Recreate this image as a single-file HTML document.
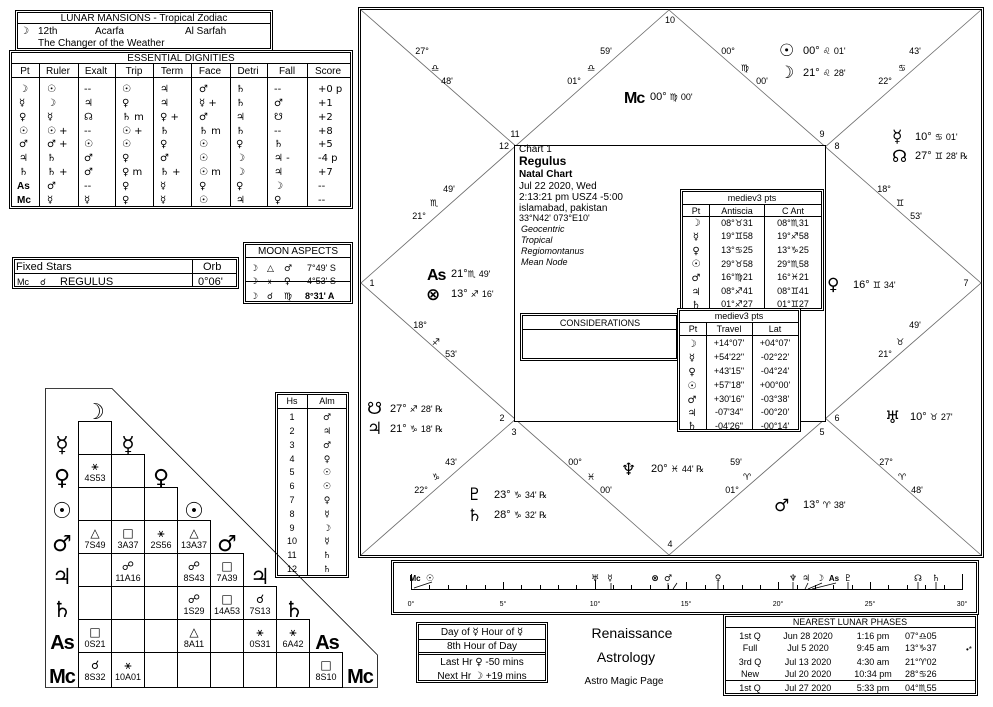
<!DOCTYPE html>
<html><head><meta charset="utf-8"><style>
body{margin:0;background:#fff}
svg{display:block;font-family:"Liberation Sans","DejaVu Sans",sans-serif}
.g{font-family:"DejaVu Sans",sans-serif}
</style></head><body>
<svg width="993" height="707" viewBox="0 0 993 707" xmlns="http://www.w3.org/2000/svg" font-size="10" fill="#000">
<g fill="none" stroke="#000" stroke-width="1">
<!-- lunar mansions -->
<rect x="15.5" y="10.5" width="257" height="40"/><rect x="17.5" y="12.5" width="253" height="36"/>
<line x1="17" y1="23.5" x2="271" y2="23.5"/>
<!-- essential dignities -->
<rect x="9.5" y="50.5" width="343" height="158"/><rect x="11.5" y="52.5" width="339" height="154"/>
<line x1="12" y1="63.5" x2="350" y2="63.5"/><line x1="12" y1="77.5" x2="350" y2="77.5"/>
<path d="M39.5 64V206M78.5 64V206M115.5 64V206M153.5 64V206M191.5 64V206M230.5 64V206M267.5 64V206M307.5 64V206"/>
<!-- fixed stars -->
<rect x="12.5" y="257.5" width="226" height="31"/><rect x="14.5" y="259.5" width="222" height="27"/>
<line x1="15" y1="273.5" x2="236" y2="273.5"/><line x1="192.5" y1="260" x2="192.5" y2="286"/>
<!-- moon aspects -->
<rect x="243.5" y="242.5" width="109" height="61"/><rect x="245.5" y="244.5" width="105" height="57"/>
<line x1="246" y1="257.5" x2="350" y2="257.5"/><line x1="246" y1="281.5" x2="350" y2="281.5"/>
<!-- Hs Alm -->
<rect x="275.5" y="392.5" width="73" height="185"/><rect x="277.5" y="394.5" width="69" height="181"/>
<line x1="278" y1="408.5" x2="346" y2="408.5"/><line x1="307.5" y1="395" x2="307.5" y2="575"/>
<!-- triangle -->
<polygon points="45.5,388.5 112,388.5 377.5,655 377.5,687.5 45.5,687.5" stroke-width="0.8"/>
<!-- main chart -->
<rect x="358.5" y="7.5" width="625" height="550"/><rect x="360.5" y="9.5" width="621" height="546"/>
<g stroke="#666" stroke-width="0.8">
<line x1="361" y1="10" x2="981" y2="555"/><line x1="981" y1="10" x2="361" y2="555"/>
<polygon points="669,10 361,283 669,555 981,283"/>
</g>
<rect x="514.5" y="145.5" width="311" height="276" fill="#fff"/>
<!-- medieval table 1 -->
<rect x="680.5" y="189.5" width="143" height="121" fill="#fff"/><rect x="682.5" y="191.5" width="139" height="117"/>
<line x1="683" y1="204.5" x2="821" y2="204.5"/><line x1="683" y1="216.5" x2="821" y2="216.5"/>
<line x1="709.5" y1="205" x2="709.5" y2="308"/><line x1="764.5" y1="205" x2="764.5" y2="308"/>
<!-- considerations -->
<rect x="520.5" y="313.5" width="158" height="47" fill="#fff"/><rect x="522.5" y="315.5" width="154" height="43"/>
<line x1="523" y1="329.5" x2="676" y2="329.5"/>
<!-- medieval table 2 -->
<rect x="677.5" y="308.5" width="123" height="123" fill="#fff"/><rect x="679.5" y="310.5" width="119" height="119"/>
<line x1="680" y1="322.5" x2="798" y2="322.5"/><line x1="680" y1="335.5" x2="798" y2="335.5"/>
<line x1="706.5" y1="323" x2="706.5" y2="429"/><line x1="752.5" y1="323" x2="752.5" y2="429"/>
<!-- timeline -->
<rect x="391.5" y="560.5" width="587" height="54"/><rect x="393.5" y="562.5" width="583" height="50"/>
<line x1="411" y1="589.5" x2="962" y2="589.5"/>
<!-- day box -->
<rect x="416.5" y="622.5" width="131" height="60"/><rect x="418.5" y="624.5" width="127" height="56"/>
<line x1="419" y1="639.5" x2="545" y2="639.5"/><line x1="419" y1="652.5" x2="545" y2="652.5"/><line x1="419" y1="654.5" x2="545" y2="654.5"/>
<!-- lunar phases -->
<rect x="723.5" y="614.5" width="254" height="81"/><rect x="725.5" y="616.5" width="250" height="77"/>
<line x1="726" y1="627.5" x2="975" y2="627.5"/><line x1="726" y1="680.5" x2="975" y2="680.5"/>
</g>
<!-- triangle cells -->
<g fill="none" stroke="#000" stroke-width="1" id="cells">
<rect x="78.5" y="421.5" width="33" height="33"/>
<rect x="78.5" y="454.5" width="33" height="33"/><rect x="111.5" y="454.5" width="33" height="33"/>
<rect x="78.5" y="487.5" width="33" height="33"/><rect x="111.5" y="487.5" width="33" height="33"/><rect x="144.5" y="487.5" width="33" height="33"/>
<rect x="78.5" y="520.5" width="33" height="33"/><rect x="111.5" y="520.5" width="33" height="33"/><rect x="144.5" y="520.5" width="33" height="33"/><rect x="177.5" y="520.5" width="33" height="33"/>
<rect x="78.5" y="553.5" width="33" height="33"/><rect x="111.5" y="553.5" width="33" height="33"/><rect x="144.5" y="553.5" width="33" height="33"/><rect x="177.5" y="553.5" width="33" height="33"/><rect x="210.5" y="553.5" width="33" height="33"/>
<rect x="78.5" y="586.5" width="33" height="33"/><rect x="111.5" y="586.5" width="33" height="33"/><rect x="144.5" y="586.5" width="33" height="33"/><rect x="177.5" y="586.5" width="33" height="33"/><rect x="210.5" y="586.5" width="33" height="33"/><rect x="243.5" y="586.5" width="33" height="33"/>
<rect x="78.5" y="619.5" width="33" height="33"/><rect x="111.5" y="619.5" width="33" height="33"/><rect x="144.5" y="619.5" width="33" height="33"/><rect x="177.5" y="619.5" width="33" height="33"/><rect x="210.5" y="619.5" width="33" height="33"/><rect x="243.5" y="619.5" width="33" height="33"/><rect x="276.5" y="619.5" width="33" height="33"/>
<rect x="78.5" y="652.5" width="33" height="35"/><rect x="111.5" y="652.5" width="33" height="35"/><rect x="144.5" y="652.5" width="33" height="35"/><rect x="177.5" y="652.5" width="33" height="35"/><rect x="210.5" y="652.5" width="33" height="35"/><rect x="243.5" y="652.5" width="33" height="35"/><rect x="276.5" y="652.5" width="33" height="35"/><rect x="309.5" y="652.5" width="33" height="35"/>
</g>

<!-- lunar mansions text -->
<text x="144" y="21" text-anchor="middle">LUNAR MANSIONS - Tropical Zodiac</text>
<text x="20" y="34" class="g" font-weight="bold">☽</text><text x="38" y="34">12th</text><text x="95" y="34">Acarfa</text><text x="185" y="34">Al Sarfah</text>
<text x="38" y="46">The Changer of the Weather</text>

<!-- ED text -->
<text x="181" y="61" text-anchor="middle">ESSENTIAL DIGNITIES</text>
<g text-anchor="middle"><text x="25" y="74">Pt</text><text x="58" y="74">Ruler</text><text x="96" y="74">Exalt</text><text x="134" y="74">Trip</text><text x="172" y="74">Term</text><text x="210" y="74">Face</text><text x="248" y="74">Detri</text><text x="287" y="74">Fall</text><text x="328" y="74">Score</text></g>
<g class="g" font-size="10">
<text x="19" y="92" font-weight="bold">☽</text><text x="47" y="92">☉</text><text x="84" y="92">--</text><text x="122" y="92">☉</text><text x="160" y="92">♃</text><text x="199" y="92">♂</text><text x="236" y="92">♄</text><text x="274" y="92">--</text><text x="318" y="92">+0  p</text>
<text x="19" y="106" font-weight="bold">☿</text><text x="47" y="106">☽</text><text x="84" y="106">♃</text><text x="122" y="106">♀</text><text x="160" y="106">♃</text><text x="199" y="106">☿  +</text><text x="236" y="106">♄</text><text x="274" y="106">♂</text><text x="318" y="106">+1</text>
<text x="19" y="120" font-weight="bold">♀</text><text x="47" y="120">☿</text><text x="84" y="120">☊</text><text x="122" y="120">♄  m</text><text x="160" y="120">♀  +</text><text x="199" y="120">♂</text><text x="236" y="120">♃</text><text x="274" y="120">☋</text><text x="318" y="120">+2</text>
<text x="19" y="134" font-weight="bold">☉</text><text x="47" y="134">☉  +</text><text x="84" y="134">--</text><text x="122" y="134">☉  +</text><text x="160" y="134">♄</text><text x="199" y="134">♄  m</text><text x="236" y="134">♄</text><text x="274" y="134">--</text><text x="318" y="134">+8</text>
<text x="19" y="147" font-weight="bold">♂</text><text x="47" y="147">♂  +</text><text x="84" y="147">☉</text><text x="122" y="147">☉</text><text x="160" y="147">♀</text><text x="199" y="147">☉</text><text x="236" y="147">♀</text><text x="274" y="147">♄</text><text x="318" y="147">+5</text>
<text x="19" y="161" font-weight="bold">♃</text><text x="47" y="161">♄</text><text x="84" y="161">♂</text><text x="122" y="161">♀</text><text x="160" y="161">♂</text><text x="199" y="161">☉</text><text x="236" y="161">☽</text><text x="274" y="161">♃   -</text><text x="318" y="161">-4  p</text>
<text x="19" y="175" font-weight="bold">♄</text><text x="47" y="175">♄  +</text><text x="84" y="175">♂</text><text x="122" y="175">♀  m</text><text x="160" y="175">♄  +</text><text x="199" y="175">☉  m</text><text x="236" y="175">☽</text><text x="274" y="175">♃</text><text x="318" y="175">+7</text>
<text x="47" y="189">♂</text><text x="84" y="189">--</text><text x="122" y="189">♀</text><text x="160" y="189">☿</text><text x="199" y="189">♀</text><text x="236" y="189">♀</text><text x="274" y="189">☽</text><text x="318" y="189">--</text>
<text x="47" y="203">☿</text><text x="84" y="203">☿</text><text x="122" y="203">♀</text><text x="160" y="203">☿</text><text x="199" y="203">☉</text><text x="236" y="203">♃</text><text x="274" y="203">♀</text><text x="318" y="203">--</text>
</g>
<text x="17" y="189" font-weight="bold" font-size="10">As</text><text x="17" y="203" font-weight="bold" font-size="10">Mc</text>

<!-- fixed stars -->
<text x="16" y="270" font-size="11">Fixed Stars</text><text x="203" y="270" font-size="11">Orb</text>
<text x="17" y="285" font-size="9">Mc</text><text x="40" y="285" class="g" font-size="9">☌</text><text x="60" y="285" font-size="11">REGULUS</text><text x="198" y="285" font-size="11">0°06'</text>
<!-- moon aspects -->
<text x="298" y="254" text-anchor="middle">MOON ASPECTS</text>
<g class="g" font-size="9"><text x="250" y="271">☽</text><text x="267" y="271">△</text><text x="284" y="271">♂</text>
<text x="250" y="284">☽</text><text x="267" y="284">⚹</text><text x="284" y="284">♀</text>
<text x="250" y="299">☽</text><text x="267" y="299">☌</text><text x="284" y="299">♍</text></g>
<text x="307" y="271" font-size="9">7°49' S</text><text x="307" y="284" font-size="9">4°53' S</text><text x="305" y="299" font-size="9" font-weight="bold">8°31' A</text>

<!-- triangle labels -->
<g class="g" font-size="22" font-weight="bold" text-anchor="middle">
<text x="95" y="419">☽</text><text x="128" y="452">☿</text><text x="161" y="485">♀</text><text x="194" y="518">☉</text><text x="227" y="551">♂</text><text x="260" y="584">♃</text><text x="294" y="617">♄</text>
<text x="62" y="452">☿</text><text x="62" y="485">♀</text><text x="62" y="518">☉</text><text x="62" y="551">♂</text><text x="62" y="584">♃</text><text x="62" y="617">♄</text>
</g>
<g font-size="20" font-weight="bold" text-anchor="middle" style="letter-spacing:-1px">
<text x="62" y="649">As</text><text x="62" y="683">Mc</text><text x="327" y="649">As</text><text x="360" y="683">Mc</text>
</g>
<g text-anchor="middle">
<g class="g" font-size="12"><text x="95" y="470">⚹</text>
<text x="95" y="537">△</text><text x="128" y="537">□</text><text x="161" y="537">⚹</text><text x="194" y="537">△</text>
<text x="128" y="570">☍</text><text x="194" y="570">☍</text><text x="227" y="570">□</text>
<text x="194" y="603">☍</text><text x="227" y="603">□</text><text x="260" y="603">☌</text>
<text x="95" y="636">□</text><text x="194" y="636">△</text><text x="260" y="636">⚹</text><text x="293" y="636">⚹</text>
<text x="95" y="669">☌</text><text x="128" y="669">⚹</text><text x="326" y="669">□</text></g>
<g font-size="9"><text x="95" y="481">4S53</text>
<text x="95" y="548">7S49</text><text x="128" y="548">3A37</text><text x="161" y="548">2S56</text><text x="194" y="548">13A37</text>
<text x="128" y="581">11A16</text><text x="194" y="581">8S43</text><text x="227" y="581">7A39</text>
<text x="194" y="614">1S29</text><text x="227" y="614">14A53</text><text x="260" y="614">7S13</text>
<text x="95" y="647">0S21</text><text x="194" y="647">8A11</text><text x="260" y="647">0S31</text><text x="293" y="647">6A42</text>
<text x="95" y="680">8S32</text><text x="128" y="680">10A01</text><text x="326" y="680">8S10</text></g>
</g>

<!-- Hs Alm -->
<g text-anchor="middle" font-size="9">
<text x="292" y="404">Hs</text><text x="327" y="404">Alm</text>
<text x="292" y="420">1</text><text x="292" y="434">2</text><text x="292" y="448">3</text><text x="292" y="462">4</text><text x="292" y="475">5</text><text x="292" y="489">6</text><text x="292" y="503">7</text><text x="292" y="517">8</text><text x="292" y="531">9</text><text x="292" y="544">10</text><text x="292" y="558">11</text><text x="292" y="572">12</text>
<g class="g"><text x="327" y="420">♂</text><text x="327" y="434">♃</text><text x="327" y="448">♂</text><text x="327" y="462">♀</text><text x="327" y="475">☉</text><text x="327" y="489">☉</text><text x="327" y="503">♀</text><text x="327" y="517">☿</text><text x="327" y="531">☽</text><text x="327" y="544">☿</text><text x="327" y="558">♄</text><text x="327" y="572">♄</text></g>
</g>

<!-- house numbers -->
<g font-size="9" text-anchor="middle">
<text x="670" y="23">10</text><text x="515" y="137">11</text><text x="504" y="149">12</text><text x="822" y="137">9</text><text x="837" y="149">8</text>
<text x="372" y="286">1</text><text x="966" y="286">7</text><text x="502" y="421">2</text><text x="514" y="435">3</text><text x="837" y="421">6</text><text x="822" y="435">5</text><text x="670" y="547">4</text>
</g>
<!-- cusp labels -->
<g font-size="9" text-anchor="middle">
<text x="422" y="54">27°</text><text x="435" y="71" class="g">♎</text><text x="447" y="84">48'</text>
<text x="606" y="54">59'</text><text x="591" y="71" class="g">♎</text><text x="574" y="84">01°</text>
<text x="728" y="54">00°</text><text x="745" y="71" class="g">♍</text><text x="762" y="84">00'</text>
<text x="915" y="54">43'</text><text x="902" y="71" class="g">♋</text><text x="885" y="84">22°</text>
<text x="449" y="192">49'</text><text x="434" y="206" class="g">♏</text><text x="419" y="219">21°</text>
<text x="420" y="328">18°</text><text x="436" y="345" class="g">♐</text><text x="451" y="357">53'</text>
<text x="884" y="192">18°</text><text x="900" y="206" class="g">♊</text><text x="916" y="219">53'</text>
<text x="915" y="328">49'</text><text x="900" y="345" class="g">♉</text><text x="885" y="357">21°</text>
<text x="451" y="465">43'</text><text x="436" y="480" class="g">♑</text><text x="421" y="493">22°</text>
<text x="575" y="465">00°</text><text x="591" y="480" class="g">♓</text><text x="606" y="493">00'</text>
<text x="736" y="465">59'</text><text x="747" y="480" class="g">♈</text><text x="732" y="493">01°</text>
<text x="886" y="465">27°</text><text x="902" y="480" class="g">♈</text><text x="917" y="493">48'</text>
</g>
<!-- planets in chart -->
<g class="g" font-size="17" font-weight="bold">
<text x="779" y="56">☉</text><text x="779" y="78">☽</text>
<text x="892" y="142">☿</text><text x="892" y="162">☊</text>
<text x="426" y="300">⊗</text><text x="827" y="290">♀</text>
<text x="367" y="414">☋</text><text x="367" y="434">♃</text>
<text x="885" y="423">♅</text><text x="621" y="475">♆</text>
<text x="467" y="500">♇</text><text x="467" y="521">♄</text><text x="774" y="511">♂</text>
</g>
<text x="624" y="103" font-size="16" font-weight="bold" style="letter-spacing:-1px">Mc</text>
<text x="427" y="280" font-size="16" font-weight="bold" style="letter-spacing:-1px">As</text>
<g font-size="11">
<text x="803" y="54">00° <tspan class="g" font-size="9">♌</tspan> <tspan font-size="9">01'</tspan></text>
<text x="803" y="76">21° <tspan class="g" font-size="9">♌</tspan> <tspan font-size="9">28'</tspan></text>
<text x="650" y="100">00° <tspan class="g" font-size="9">♍</tspan> <tspan font-size="9">00'</tspan></text>
<text x="915" y="140">10° <tspan class="g" font-size="9">♋</tspan> <tspan font-size="9">01'</tspan></text>
<text x="915" y="159">27° <tspan class="g" font-size="9">♊</tspan> <tspan font-size="9">28' ℞</tspan></text>
<text x="451" y="277">21°<tspan class="g" font-size="9">♏</tspan> <tspan font-size="9">49'</tspan></text>
<text x="451" y="297">13° <tspan class="g" font-size="9">♐</tspan> <tspan font-size="9">16'</tspan></text>
<text x="853" y="288">16° <tspan class="g" font-size="9">♊</tspan> <tspan font-size="9">34'</tspan></text>
<text x="390" y="412">27° <tspan class="g" font-size="9">♐</tspan> <tspan font-size="9">28' ℞</tspan></text>
<text x="390" y="432">21° <tspan class="g" font-size="9">♑</tspan> <tspan font-size="9">18' ℞</tspan></text>
<text x="910" y="420">10° <tspan class="g" font-size="9">♉</tspan> <tspan font-size="9">27'</tspan></text>
<text x="651" y="472">20° <tspan class="g" font-size="9">♓</tspan> <tspan font-size="9">44' ℞</tspan></text>
<text x="494" y="498">23° <tspan class="g" font-size="9">♑</tspan> <tspan font-size="9">34' ℞</tspan></text>
<text x="494" y="518">28° <tspan class="g" font-size="9">♑</tspan> <tspan font-size="9">32' ℞</tspan></text>
<text x="803" y="508">13° <tspan class="g" font-size="9">♈</tspan> <tspan font-size="9">38'</tspan></text>
</g>
<!-- chart info -->
<g font-size="10">
<text x="519" y="152">Chart 1</text>
<text x="519" y="165" font-size="12" font-weight="bold">Regulus</text>
<text x="519" y="177" font-weight="bold">Natal Chart</text>
<text x="519" y="189">Jul 22 2020, Wed</text>
<text x="519" y="200">2:13:21 pm  USZ4 -5:00</text>
<text x="519" y="211">islamabad, pakistan</text>
<text x="519" y="221" font-size="9">33°N42' 073°E10'</text>
<g font-style="italic" font-size="9"><text x="521" y="232">Geocentric</text><text x="521" y="243">Tropical</text><text x="521" y="254">Regiomontanus</text><text x="521" y="265">Mean Node</text></g>
</g>
<!-- medieval 1 -->
<g font-size="9" text-anchor="middle">
<text x="752" y="201">mediev3 pts</text>
<text x="696" y="214">Pt</text><text x="737" y="214">Antiscia</text><text x="793" y="214">C Ant</text>
<text x="737" y="226">08°♉31</text><text x="793" y="226">08°♏31</text>
<text x="737" y="239">19°♊58</text><text x="793" y="239">19°♐58</text>
<text x="737" y="253">13°♋25</text><text x="793" y="253">13°♑25</text>
<text x="737" y="267">29°♉58</text><text x="793" y="267">29°♏58</text>
<text x="737" y="280">16°♍21</text><text x="793" y="280">16°♓21</text>
<text x="737" y="294">08°♐41</text><text x="793" y="294">08°♊41</text>
<text x="737" y="307">01°♐27</text><text x="793" y="307">01°♊27</text>
<g class="g" font-weight="bold" font-size="10"><text x="696" y="226">☽</text><text x="696" y="240">☿</text><text x="696" y="254">♀</text><text x="696" y="267">☉</text><text x="696" y="281">♂</text><text x="696" y="295">♃</text><text x="696" y="308">♄</text></g>
</g>
<text x="600" y="326" font-size="9" text-anchor="middle">CONSIDERATIONS</text>
<!-- medieval 2 -->
<g font-size="9" text-anchor="middle">
<text x="739" y="319">mediev3 pts</text>
<text x="693" y="332">Pt</text><text x="729" y="332">Travel</text><text x="775" y="332">Lat</text>
<text x="729" y="346">+14°07'</text><text x="775" y="346">+04°07'</text>
<text x="729" y="360">+54'22"</text><text x="775" y="360">-02°22'</text>
<text x="729" y="374">+43'15"</text><text x="775" y="374">-04°24'</text>
<text x="729" y="388">+57'18"</text><text x="775" y="388">+00°00'</text>
<text x="729" y="402">+30'16"</text><text x="775" y="402">-03°38'</text>
<text x="729" y="415">-07'34"</text><text x="775" y="415">-00°20'</text>
<text x="729" y="429">-04'26"</text><text x="775" y="429">-00°14'</text>
<g class="g" font-weight="bold" font-size="10"><text x="692" y="347">☽</text><text x="692" y="361">☿</text><text x="692" y="375">♀</text><text x="692" y="389">☉</text><text x="692" y="403">♂</text><text x="692" y="416">♃</text><text x="692" y="429">♄</text></g>
</g>

<!-- timeline -->
<g stroke="#000" stroke-width="1">
<path d="M411.5 574V590M962.5 574V590M429.5 585V590M448.5 585V590M466.5 585V590M485.5 585V590M503.5 582V590M521.5 585V590M540.5 585V590M558.5 585V590M576.5 585V590M595.5 580V590M613.5 585V590M631.5 585V590M650.5 585V590M668.5 585V590M686.5 582V590M705.5 585V590M723.5 585V590M742.5 585V590M760.5 585V590M778.5 582V590M797.5 585V590M815.5 585V590M833.5 585V590M852.5 585V590M870.5 582V590M888.5 585V590M907.5 585V590M925.5 585V590M944.5 585V590"/>
<path d="M414 588L432 582M611 589V583M668 589V583M673 589L677 583M718 589V582M793 589V582M805 589L808 583M808 589L822 583M812 589L836 583M848 589V582M918 589V582M936 589V582" stroke-width="0.8"/>
</g>
<g class="g" font-size="9" font-weight="bold" text-anchor="middle">
<text x="430" y="581">☉</text><text x="595" y="581">♅</text><text x="610" y="581">☿</text><text x="655" y="581">⊗</text><text x="668" y="581">♂</text><text x="718" y="581">♀</text><text x="793" y="581">♆</text><text x="806" y="581">♃</text><text x="820" y="581">☽</text><text x="848" y="581">♇</text><text x="918" y="581">☊</text><text x="936" y="581">♄</text>
</g>
<text x="415" y="581" font-size="8" font-weight="bold" text-anchor="middle">Mc</text>
<text x="834" y="581" font-size="8" font-weight="bold" text-anchor="middle">As</text>
<g font-size="7" text-anchor="middle">
<text x="411" y="606">0°</text><text x="503" y="606">5°</text><text x="595" y="606">10°</text><text x="686" y="606">15°</text><text x="778" y="606">20°</text><text x="870" y="606">25°</text><text x="962" y="606">30°</text>
</g>
<!-- day box -->
<g font-size="10" text-anchor="middle">
<text x="482" y="635">Day of <tspan class="g" font-weight="bold">☿</tspan>    Hour of <tspan class="g" font-weight="bold">☿</tspan></text>
<text x="482" y="649">8th Hour of Day</text>
<text x="482" y="665">Last Hr <tspan class="g">♀</tspan> -50 mins</text>
<text x="482" y="679">Next Hr <tspan class="g">☽</tspan> +19 mins</text>
</g>
<text x="632" y="638" font-size="14" text-anchor="middle">Renaissance</text>
<text x="626" y="662" font-size="14" text-anchor="middle">Astrology</text>
<text x="624" y="684" font-size="10" text-anchor="middle">Astro Magic Page</text>
<!-- lunar phases -->
<g font-size="9">
<text x="850" y="625" text-anchor="middle">NEAREST LUNAR PHASES</text>
<g text-anchor="middle"><text x="750" y="639">1st Q</text><text x="750" y="651">Full</text><text x="750" y="665">3rd Q</text><text x="750" y="677">New</text><text x="750" y="691">1st Q</text>
<text x="808" y="639">Jun 28 2020</text><text x="808" y="651">Jul 5 2020</text><text x="808" y="665">Jul 13 2020</text><text x="808" y="677">Jul 20 2020</text><text x="808" y="691">Jul 27 2020</text>
<text x="873" y="639">1:16 pm</text><text x="873" y="651">9:45 am</text><text x="873" y="665">4:30 am</text><text x="873" y="677">10:34 pm</text><text x="873" y="691">5:33 pm</text></g>
<text x="905" y="639">07°♎05</text><text x="905" y="651">13°♑37</text><text x="905" y="665">21°♈02</text><text x="905" y="677">28°♋26</text><text x="905" y="691">04°♏55</text>
<text x="966" y="652" font-size="8">•*</text>
</g>
</svg>
</body></html>
